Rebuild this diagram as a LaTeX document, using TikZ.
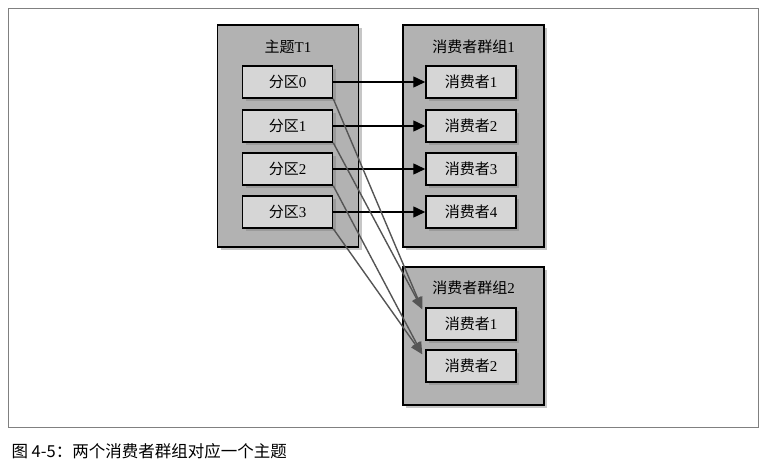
\documentclass[tikz,border=0pt]{standalone}
\usepackage{fontspec}
\setmainfont{Liberation Serif}
\newfontfamily\cjk{Noto Sans CJK SC}
\usetikzlibrary{arrows.meta, shadows}

\definecolor{outerfill}{RGB}{178,178,178}
\definecolor{innerfill}{RGB}{214,214,214}
\definecolor{linkgray}{RGB}{85,85,85}

\begin{document}
\begin{tikzpicture}[
  x=1pt, y=-1pt,
  groupbox/.style={rectangle, draw=black, line width=1.5pt, fill=outerfill, minimum width=141pt, drop shadow={shadow xshift=3pt, shadow yshift=-3pt, opacity=0.45}},
  itembox/.style={rectangle, draw=black, line width=1.5pt, fill=innerfill, minimum width=90pt, minimum height=32pt, font=\fontsize{15}{17}\selectfont, drop shadow={shadow xshift=3pt, shadow yshift=-3pt, opacity=0.45}},
  title/.style={font=\fontsize{15}{17}\selectfont},
  arr/.style={-{Triangle[length=12pt, width=11pt]}, line width=1.4pt},
  cross/.style={-{Triangle[length=12pt, width=10pt]}, line width=1.4pt, draw=linkgray, color=linkgray},
]
\useasboundingbox (0,0) rectangle (767,468);
\draw[gray, line width=0.8pt] (8,8) rectangle (758,427);

% topic and groups
\node[groupbox, minimum height=222pt] (topic)  at (288,136)   {};
\node[groupbox, minimum height=222pt] (group1) at (473.5,136) {};
\node[groupbox, minimum height=138pt] (group2) at (473.5,336) {};
\node[title] (topictitle)  at (288,47)   {{\cjk 主题}T1};
\node[title] (group1title) at (473.5,47) {{\cjk 消费者群组}1};
\node[title] (group2title) at (473.5,288) {{\cjk 消费者群组}2};

% partitions and consumers
\foreach \i/\y in {0/82, 1/126, 2/169, 3/212}
  \node[itembox] (p\i) at (287.5,\y) {{\cjk 分区}\i};
\foreach \i/\y in {1/82, 2/126, 3/169, 4/212}
  \node[itembox] (a\i) at (471,\y) {{\cjk 消费者}\i};
\node[itembox] (b1) at (471,324) {{\cjk 消费者}1};
\node[itembox] (b2) at (471,366) {{\cjk 消费者}2};

\draw[arr] (p0) -- (a1);
\draw[arr] (p1) -- (a2);
\draw[arr] (p2) -- (a3);
\draw[arr] (p3) -- (a4);
\draw[cross] (p0.south east) -- ([xshift=-3pt, yshift=-2pt]b1.north west);
\draw[cross] (p1.south east) -- ([xshift=-3pt, yshift=-2pt]b1.north west);
\draw[cross] (p2.south east) -- ([xshift=-3pt, yshift=-5pt]b2.north west);
\draw[cross] (p3.south east) -- ([xshift=-3pt, yshift=-5pt]b2.north west);

\node[anchor=west, font=\cjk\fontsize{16.5}{19}\selectfont] (caption) at (8,451) {图 4-5：两个消费者群组对应一个主题};
\end{tikzpicture}
\end{document}
